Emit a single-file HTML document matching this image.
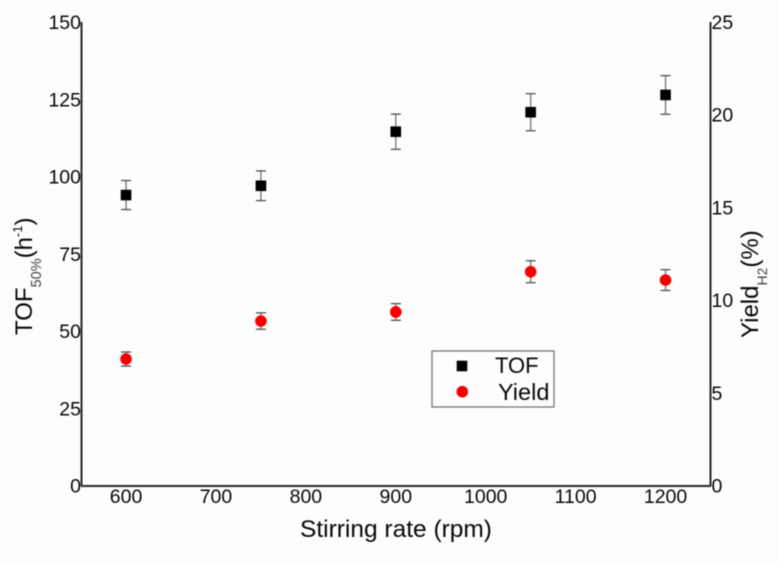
<!DOCTYPE html>
<html lang="en">
<head>
<meta charset="utf-8">
<title>TOF and Yield vs Stirring rate</title>
<style>
html,body{margin:0;padding:0;background:#fdfdfd;}
body{width:778px;height:564px;overflow:hidden;}
svg{display:block;filter:blur(0.45px);}
text{font-family:"Liberation Sans",sans-serif;fill:#080808;}
</style>
</head>
<body>
<svg id="chart" width="778" height="564" viewBox="0 0 778 564" xmlns="http://www.w3.org/2000/svg">
  <rect x="0" y="0" width="778" height="564" fill="#fdfdfd"/>
  <g id="marks"></g>
  <g id="axes">
    <line x1="81.5" y1="22" x2="81.5" y2="486" stroke="#26262a" stroke-width="2"/>
    <line x1="710.5" y1="22" x2="710.5" y2="486" stroke="#26262a" stroke-width="2"/>
    <line x1="81" y1="486" x2="711" y2="486" stroke="#26262a" stroke-width="2"/>
  </g>
  <g id="ticks"></g>
  <text x="396" y="537" font-size="24.5" text-anchor="middle">Stirring rate (rpm)</text>
  <text transform="translate(32,335) rotate(-90)" font-size="24">TOF<tspan font-size="14.5" dy="9" style="fill:#444">50%</tspan><tspan dy="-9">(h</tspan><tspan font-size="13" dy="-10">-1</tspan><tspan dy="10">)</tspan></text>
  <text transform="translate(758,338) rotate(-90)" font-size="24">Yield<tspan font-size="14" dy="9" style="fill:#444">H2</tspan><tspan dy="-9">(%)</tspan></text>
  <g id="legend">
    <rect x="432" y="351" width="122" height="56" fill="none" stroke="#77777b" stroke-width="1.3"/>
    <rect x="456.7" y="360.7" width="10.6" height="10.6" fill="#000"/>
    <text x="495" y="373" font-size="22">TOF</text>
    <circle cx="462.3" cy="391.7" r="5.8" fill="#f50000"/>
    <text x="498" y="400" font-size="23.5">Yield</text>
  </g>
</svg>
<script>
const categories = [600, 750, 900, 1050, 1200];
const tofValues = [94, 97, 114.5, 120.8, 126.4];
const tofErrors = [4.7, 4.8, 5.7, 6, 6.25];
const yieldValues = [6.82, 8.87, 9.36, 11.53, 11.08];
const yieldErrors = [0.38, 0.44, 0.45, 0.59, 0.56];
const xTickLabels = [600, 700, 800, 900, 1000, 1100, 1200];
const leftTickLabels = [0, 25, 50, 75, 100, 125, 150];
const rightTickLabels = [0, 5, 10, 15, 20, 25];

const NS = 'http://www.w3.org/2000/svg';
const xAt = v => 81.1 + (v - 550) * (629.4 / 700);
const yLeft = v => 485.5 - v * (463.5 / 150);
const yRight = v => 485.5 - v * (463.5 / 25);
const marks = document.getElementById('marks');
const ticks = document.getElementById('ticks');

function make(tag, attrs, parent) {
  const el = document.createElementNS(NS, tag);
  Object.keys(attrs).forEach(k => el.setAttribute(k, attrs[k]));
  parent.appendChild(el);
  return el;
}

function drawError(parent, x, yTop, yBottom, cap) {
  const stem = make('line', {x1: x, x2: x, y1: yTop, y2: yBottom, stroke: '#6a6a6a', 'stroke-width': 1.2}, parent);
  
  
  [yTop, yBottom].forEach(y => {
    const c = make('line', {x1: x - cap, x2: x + cap, y1: y, y2: y, stroke: '#444', 'stroke-width': 1.2}, parent);
    
    
  });
}

categories.forEach((c, i) => {
  const x = xAt(c);
  drawError(marks, x, yLeft(tofValues[i] + tofErrors[i]), yLeft(tofValues[i] - tofErrors[i]), 5);
  const y = yLeft(tofValues[i]);
  const sq = make('rect', {x: x - 5.3, y: y - 5.3, width: 10.6, height: 10.6, fill: '#000'}, marks);
  
  

  drawError(marks, x, yRight(yieldValues[i] + yieldErrors[i]), yRight(yieldValues[i] - yieldErrors[i]), 5);
  const dot = make('circle', {cx: x, cy: yRight(yieldValues[i]), r: 5.8, fill: '#f50000'}, marks);
  
  
});

xTickLabels.forEach(v => {
  const t = make('text', {x: xAt(v), y: 503, 'font-size': 19.5, 'text-anchor': 'middle'}, ticks);
  
  
  t.textContent = v;
});
leftTickLabels.forEach(v => {
  const t = make('text', {x: 81, y: yLeft(v) + 7, 'font-size': 19.5, 'text-anchor': 'end'}, ticks);
  
  
  t.textContent = v;
});
rightTickLabels.forEach(v => {
  const t = make('text', {x: 711.5, y: yRight(v) + 7, 'font-size': 19.5, 'text-anchor': 'start'}, ticks);
  
  
  t.textContent = v;
});
</script>
</body>
</html>
